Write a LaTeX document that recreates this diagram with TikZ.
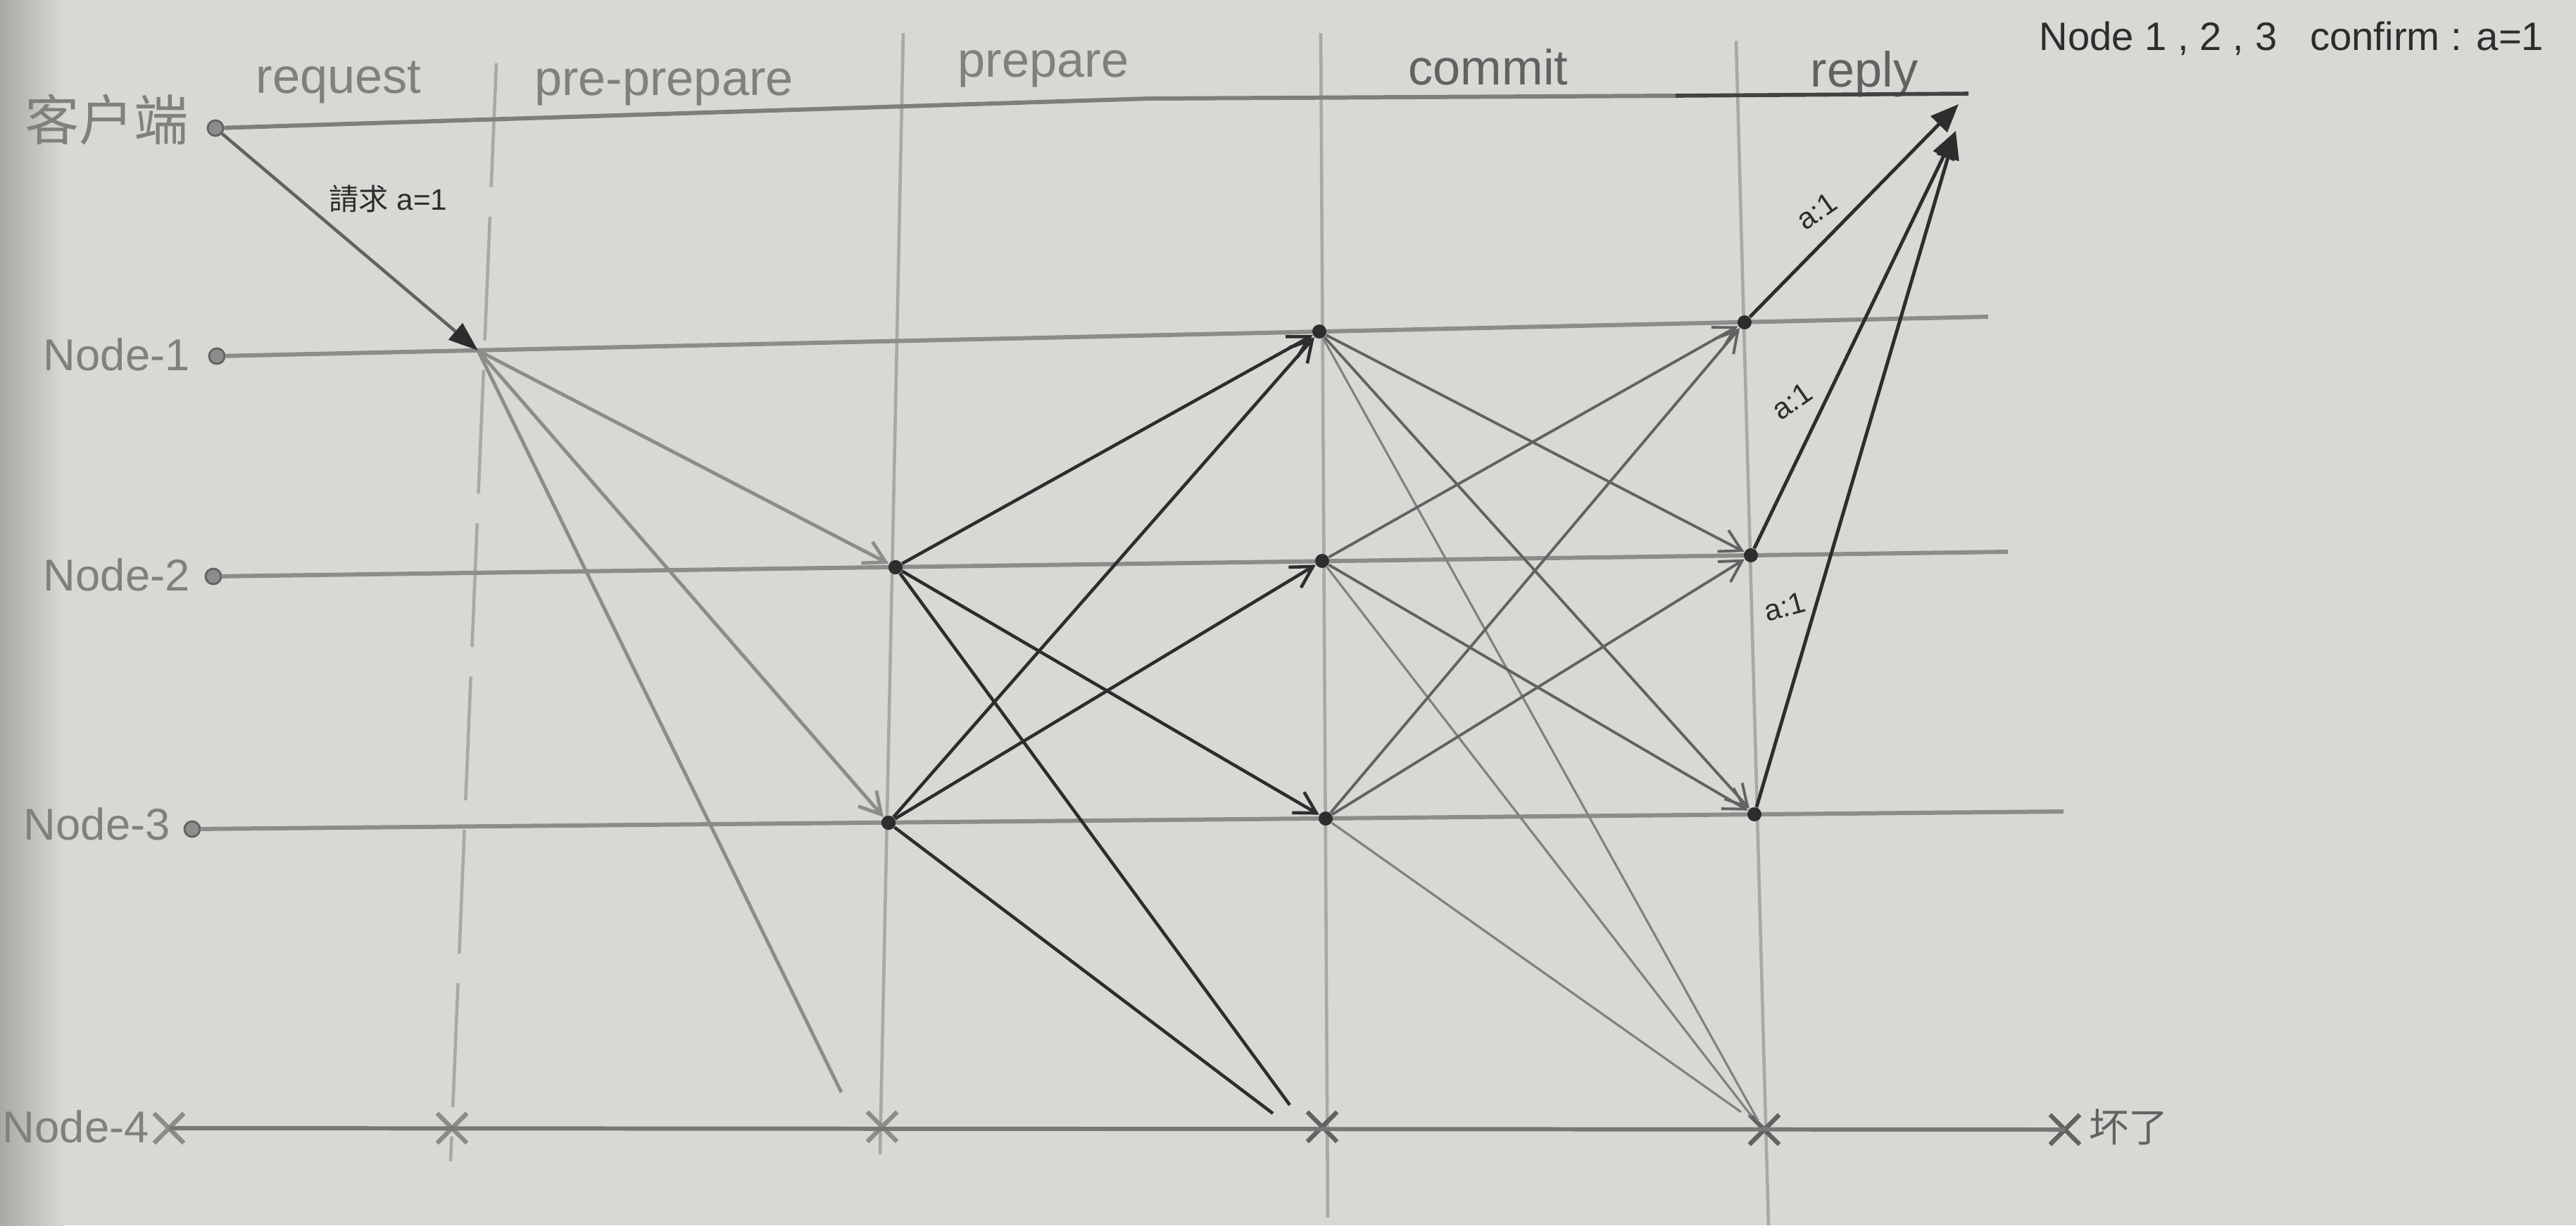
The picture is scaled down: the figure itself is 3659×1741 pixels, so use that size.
\documentclass[tikz,border=0pt]{standalone}
\usepackage{fontspec}
\setmainfont{Liberation Sans}
\newfontfamily\cjk{Noto Sans CJK SC}
\usetikzlibrary{arrows.meta,shapes.misc}
\definecolor{paper}{RGB}{216,216,212}
\definecolor{shadowc}{RGB}{168,168,164}
\definecolor{gridc}{RGB}{140,140,138}
\definecolor{divc}{RGB}{168,168,165}
\definecolor{labelc}{RGB}{128,128,126}
\definecolor{darkc}{RGB}{45,45,45}
\definecolor{midc}{RGB}{98,98,98}
\definecolor{ppc}{RGB}{140,140,138}
\begin{document}
\begin{tikzpicture}[x=0.01cm,y=-0.01cm,
  timeline/.style={draw=gridc,line width=1.7pt},
  divider/.style={draw=divc,line width=1.3pt},
  dashdiv/.style={draw=divc,line width=1.3pt,dash pattern=on 50pt off 12pt},
  startdot/.style={circle,draw=midc,fill=gridc,line width=0.8pt,inner sep=0pt,minimum size=0.22cm},
  evdot/.style={circle,fill=darkc,inner sep=0pt,minimum size=0.2cm},
  xmark/.style={cross out,draw=gridc,line width=1.8pt,inner sep=0pt,minimum size=0.36cm},
  lbl/.style={text=labelc,font=\fontsize{18}{21}\selectfont},
  phase/.style={text=labelc,font=\fontsize{20}{24}\selectfont},
  note/.style={text=darkc,font=\fontsize{12}{14}\selectfont},
  reqarrow/.style={draw=midc,line width=1.3pt,-{Triangle[length=0.42cm,width=0.3cm,color=darkc]}},
  pparrow/.style={draw=ppc,line width=1.4pt,-{Straight Barb[length=0.3cm,width=0.34cm]}},
  ppline/.style={draw=ppc,line width=1.4pt},
  prarrow/.style={draw=darkc,line width=1.3pt,-{Straight Barb[length=0.3cm,width=0.34cm]}},
  prline/.style={draw=darkc,line width=1.3pt},
  cmarrow/.style={draw=midc,line width=1.1pt,-{Straight Barb[length=0.3cm,width=0.34cm]}},
  cmline/.style={draw=midc!80,line width=0.9pt},
  rparrow/.style={draw=darkc,line width=1.4pt,-{Triangle[length=0.4cm,width=0.32cm]}}
]
% paper
\fill[paper] (0,0) rectangle (3659,1741);
\shade[left color=shadowc,right color=paper] (0,0) rectangle (90,1741);
\useasboundingbox (0,0) rectangle (3659,1741);

% phase dividers
\coordinate (d1t) at (705,90);   \coordinate (d1b) at (640,1650);
\coordinate (d2t) at (1283,47);  \coordinate (d2b) at (1250,1640);
\coordinate (d3t) at (1876,47);  \coordinate (d3b) at (1886,1730);
\coordinate (d4t) at (2466,58);  \coordinate (d4b) at (2512,1741);
\draw[dashdiv] (d1t) -- (d1b);
\draw[divider] (d2t) -- (d2b);
\draw[divider] (d3t) -- (d3b);
\draw[divider] (d4t) -- (d4b);

% phase labels
\node[phase] (ph1) at (481,117) {request};
\node[phase] (ph2) at (943,124) {pre-prepare};
\node[phase] (ph3) at (1482,98) {prepare};
\node[phase,text=midc] (ph4) at (2114,95) {commit};
\node[phase,text=midc] (ph5) at (2648,105) {reply};

% top-right note
\node[text=darkc,font=\fontsize{16}{19}\selectfont] (conf) at (3255,55) {Node 1 , 2 , 3 \ \ confirm : a=1};

% client
\node[startdot] (cli) at (306,182) {};
\node[text=labelc,font=\cjk\fontsize{22}{26}\selectfont,anchor=east] (clilbl) at (280,170) {客户端};
\coordinate (clmid) at (1633,140);
\coordinate (clbend) at (2380,136);
\coordinate (clend) at (2796,133);
\draw[draw=gridc!90!black,line width=1.7pt] (cli) -- (clmid) -- (clbend);
\draw[draw=darkc!90,line width=1.6pt] (clbend) -- (clend);

% replica timelines
\node[startdot] (n1s) at (308,506) {};
\node[startdot] (n2s) at (303,819) {};
\node[startdot] (n3s) at (273,1178) {};
\node[xmark] (n4x0) at (240,1603) {};
\coordinate (n1e) at (2824,450);
\coordinate (n2e) at (2852,784);
\coordinate (n3e) at (2931,1153);
\node[lbl,anchor=east] (l1) at (282,504) {Node-1};
\node[lbl,anchor=east] (l2) at (282,817) {Node-2};
\node[lbl,anchor=east] (l3) at (254,1171) {Node-3};
\node[lbl,anchor=east] (l4) at (224,1601) {Node-4};
\draw[timeline] (n1s) -- (n1e);
\draw[timeline] (n2s) -- (n2e);
\draw[timeline] (n3s) -- (n3e);
\node[xmark] (n4x1) at (642,1603) {};
\node[xmark] (n4x2) at (1253,1601) {};
\node[xmark,draw=midc] (n4x3) at (1878,1601) {};
\node[xmark,draw=midc] (n4x4) at (2506,1605) {};
\node[xmark,draw=midc] (n4x5) at (2933,1605) {};
\draw[timeline,draw=gridc!85!black] (n4x0.center) -- (n4x5.center);
\node[text=midc,font=\cjk\fontsize{16}{19}\selectfont,anchor=west] (broken) at (2955,1601) {坏了};

% event points
\coordinate (P1) at (679,498);
\node[evdot] (N2p) at (1272,806) {};
\node[evdot] (N3p) at (1262,1169) {};
\node[evdot] (C1) at (1874,471) {};
\node[evdot] (C2) at (1878,797) {};
\node[evdot] (C3) at (1883,1163) {};
\node[evdot] (R1) at (2478,458) {};
\node[evdot] (R2) at (2487,789) {};
\node[evdot] (R3) at (2492,1157) {};

% free ends above Node-4
\coordinate (e1) at (1195,1552);
\coordinate (e2) at (1832,1570);
\coordinate (e3) at (1808,1582);
\coordinate (e4) at (2497,1592);
\coordinate (e5) at (2488,1586);
\coordinate (e6) at (2473,1580);
\coordinate (cl1) at (2782,148);
\coordinate (cl2) at (2778,186);

% request
\draw[reqarrow] (cli) -- (P1);
\node[note,anchor=west] (reqlbl) at (455,282) {{\cjk 請求} a=1};

% pre-prepare
\draw[pparrow] (P1) -- (N2p);
\draw[pparrow] (P1) -- (N3p);
\draw[ppline] (P1) -- (e1);

% prepare
\draw[prarrow] (N2p) -- (C1);
\draw[prarrow] (N2p) -- (C3);
\draw[prline] (N2p) -- (e2);
\draw[prarrow] (N3p) -- (C1);
\draw[prarrow] (N3p) -- (C2);
\draw[prline] (N3p) -- (e3);

% commit
\draw[cmarrow] (C1) -- (R2);
\draw[cmarrow] (C1) -- (R3);
\draw[cmline] (C1) -- (e4);
\draw[cmarrow] (C2) -- (R1);
\draw[cmarrow] (C2) -- (R3);
\draw[cmline] (C2) -- (e5);
\draw[cmarrow] (C3) -- (R1);
\draw[cmarrow] (C3) -- (R2);
\draw[cmline] (C3) -- (e6);

% reply
\draw[rparrow] (R1) -- (cl1);
\draw[rparrow] (R2) -- (cl2);
\draw[rparrow] (R3) -- (cl2);
\node[note,rotate=35] (a1) at (2580,300) {a:1};
\node[note,rotate=35] (a2) at (2545,570) {a:1};
\node[note,rotate=15] (a3) at (2535,862) {a:1};

% redraw dots on top
\node[evdot] at (N2p) {};
\node[evdot] at (N3p) {};
\end{tikzpicture}
\end{document}
